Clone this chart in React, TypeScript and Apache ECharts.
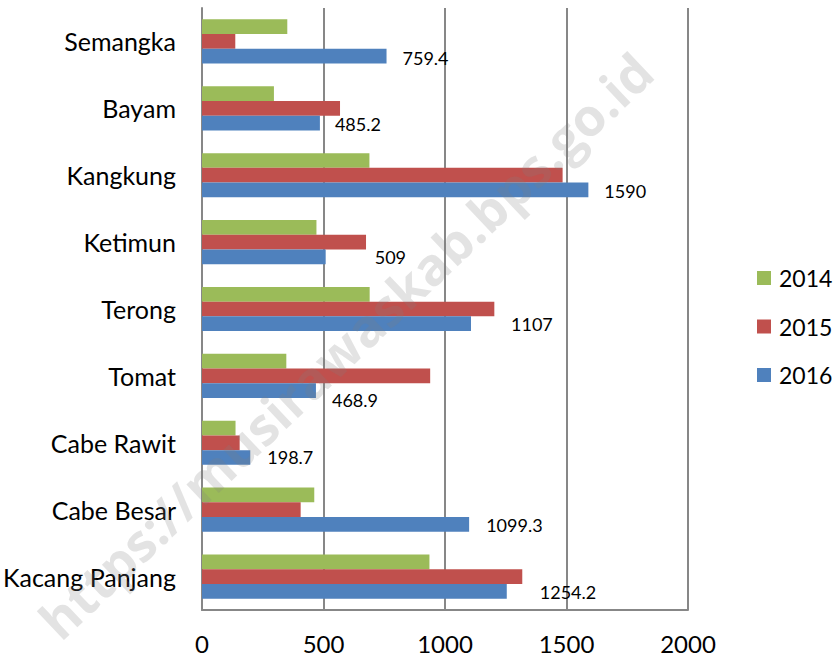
import React, { useEffect, useRef } from "react";
import * as echarts from "echarts";

const categories = [
  "Kacang Panjang",
  "Cabe Besar",
  "Cabe Rawit",
  "Tomat",
  "Terong",
  "Ketimun",
  "Kangkung",
  "Bayam",
  "Semangka",
];
const values2014 = [936, 462, 138, 347, 690, 471, 689, 296, 351];
const values2015 = [1318, 406, 155, 939, 1203, 675, 1484, 568, 137];
const values2016 = [1254.2, 1099.3, 198.7, 468.9, 1107, 509, 1590, 485.2, 759.4];
const xTicks = [0, 500, 1000, 1500, 2000];
// label horizontal gap / vertical shift (styling only)
const labelGap = [33, 17, 17, 16, 40, 49, 16, 15, 16];
const labelShift = [1, 1, 0, 9, 0, 0, 1, 1, 2];

const FONT = "Lato, 'Open Sans', sans-serif";

export default function App() {
  const ref = useRef<HTMLDivElement>(null);
  useEffect(() => {
    document.body.style.margin = "0";
    const chart = echarts.init(ref.current!, undefined, { renderer: "svg" });
    const gridColor = "#878787";
    chart.setOption({
      animation: false,
      backgroundColor: "#ffffff",
      textStyle: { fontFamily: FONT },
      grid: { left: 202, right: 147, top: 8, bottom: 47, containLabel: false },
      legend: {
        orient: "vertical",
        left: 757,
        top: 266,
        padding: 0,
        itemWidth: 14,
        itemHeight: 14,
        itemGap: 24.5,
        icon: "rect",
        data: ["2014", "2015", "2016"],
        textStyle: {
          fontSize: 23,
          lineHeight: 24,
          color: "#000",
          fontFamily: FONT,
          padding: [0, 0, 0, 3],
        },
      },
      xAxis: {
        type: "value",
        min: 0,
        max: 2000,
        interval: 500,
        axisLine: { show: true, lineStyle: { color: gridColor, width: 2 } },
        axisTick: { show: false },
        splitLine: { show: true, lineStyle: { color: gridColor, width: 2 } },
        axisLabel: {
          fontSize: 24,
          color: "#000",
          margin: 21,
          fontFamily: FONT,
          formatter: (v: number) => (xTicks.includes(v) ? String(v) : ""),
        },
      },
      yAxis: {
        type: "category",
        data: categories,
        axisLine: { show: true, lineStyle: { color: gridColor, width: 2 } },
        axisTick: { show: false },
        axisLabel: { fontSize: 25, color: "#000", margin: 26, fontFamily: FONT },
      },
      series: [
        {
          name: "2014",
          type: "bar",
          data: values2014,
          itemStyle: { color: "#9BBB59" },
          barGap: "0%",
          barCategoryGap: "34%",
        },
        {
          name: "2015",
          type: "bar",
          data: values2015,
          itemStyle: { color: "#C0504D" },
          barGap: "0%",
          barCategoryGap: "34%",
        },
        {
          name: "2016",
          type: "bar",
          data: values2016.map((v, i) => ({
            value: v,
            label: { distance: labelGap[i], offset: [0, labelShift[i]] },
          })),
          itemStyle: { color: "#4F81BD" },
          barGap: "0%",
          barCategoryGap: "34%",
          label: {
            show: true,
            position: "right",
            fontSize: 18,
            color: "#000",
            fontFamily: FONT,
          },
        },
      ],
      graphic: [
        {
          type: "text",
          x: 345,
          y: 345,
          rotation: (43.5 * Math.PI) / 180,
          z: 100,
          silent: true,
          style: {
            text: "https://musirawaskab.bps.go.id",
            fontSize: 52,
            fontWeight: "bold",
            fontFamily: "'Open Sans', sans-serif",
            fill: "rgba(128,128,128,0.22)",
            align: "center",
            verticalAlign: "middle",
          },
        },
      ],
    });
    return () => chart.dispose();
  }, []);
  return (
    <div
      ref={ref}
      style={{ position: "absolute", left: 0, top: 0, width: 835, height: 657 }}
    />
  );
}
